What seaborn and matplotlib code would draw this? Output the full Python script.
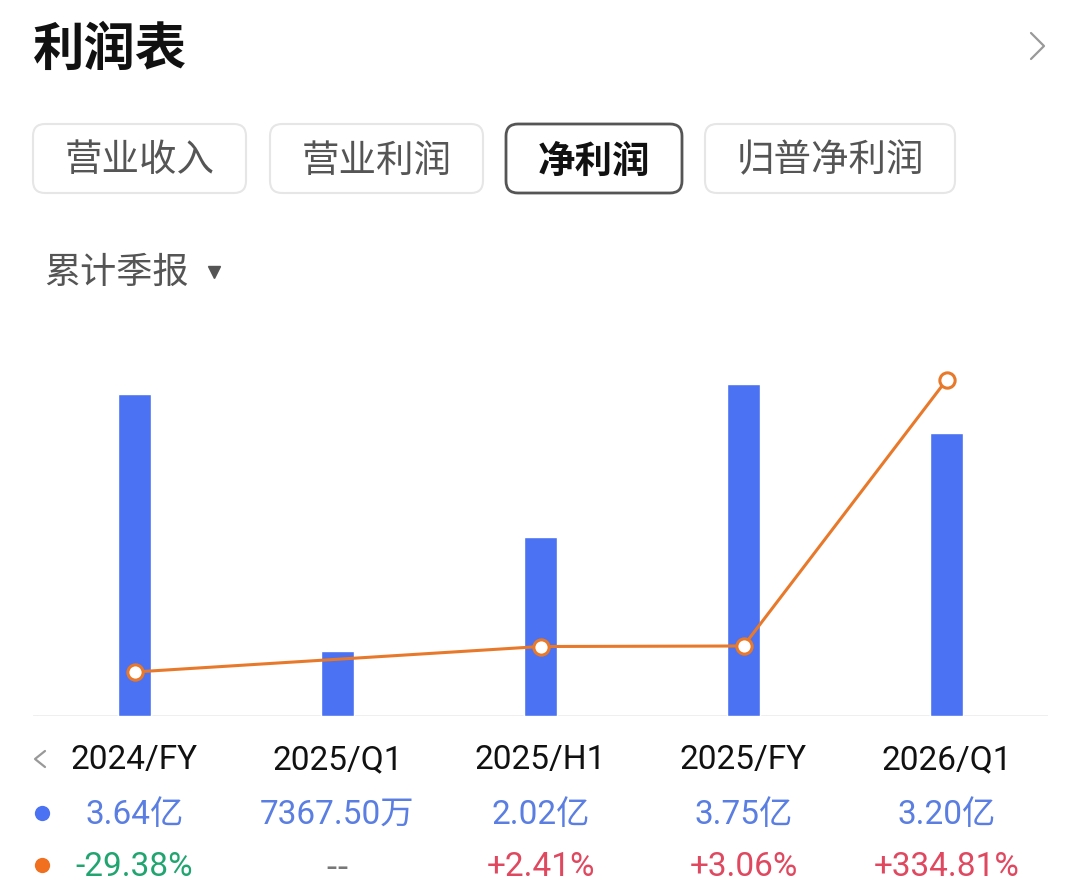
import numpy as np
import pandas as pd
import seaborn as sns
import matplotlib.pyplot as plt
from matplotlib.patches import FancyBboxPatch
from matplotlib.transforms import blended_transform_factory

sns.set_theme(style="white")
plt.rcParams['font.family'] = ['Noto Sans CJK SC', 'DejaVu Sans']

periods = ["2024/FY", "2025/Q1", "2025/H1", "2025/FY", "2026/Q1"]
profit = [3.64, 0.736750, 2.02, 3.75, 3.20]  # 亿
profit_labels = ["3.64亿", "7367.50万", "2.02亿", "3.75亿", "3.20亿"]
growth = [-29.38, np.nan, 2.41, 3.06, 334.81]  # %
growth_labels = ["-29.38%", "--", "+2.41%", "+3.06%", "+334.81%"]
tabs = ["营业收入", "营业利润", "净利润", "归普净利润"]

df = pd.DataFrame({"period": periods, "profit": profit, "growth": growth,
                   "pos": np.arange(len(periods))})

bar_color = "#4a72f2"
line_color = "#e8792a"
num_font = ['Roboto', 'Noto Sans CJK SC', 'DejaVu Sans']

fig = plt.figure(figsize=(10.8, 8.92), dpi=100)

# overlay in pixel coordinates for the header widgets
ov = fig.add_axes([0, 0, 1, 1])
ov.set_xlim(0, 1080)
ov.set_ylim(892, 0)
ov.axis("off")

ov.text(33, 49, "利润表", fontsize=37, fontweight="bold", color="#111111",
        va="center", ha="left")
ov.plot([1031, 1044, 1031], [33, 46, 59], color="#999999", lw=1.6)

tab_boxes = [(33, 246), (270, 483), (506, 682), (705, 955)]
for name, (x0, x1) in zip(tabs, tab_boxes):
    sel = name == "净利润"
    box = FancyBboxPatch((x0, 124), x1 - x0, 69,
                         boxstyle="round,pad=0,rounding_size=12",
                         fc="white", ec="#555555" if sel else "#e6e6e6",
                         lw=2.0 if sel else 1.5)
    ov.add_patch(box)
    ov.text((x0 + x1) / 2, 161, name, fontsize=27,
            fontweight="bold" if sel else "normal",
            color="#111111" if sel else "#555555", ha="center", va="center")

ov.text(44, 273, "累计季报", fontsize=26, color="#555555", ha="left", va="center")
ov.plot([214], [272], marker="v", ms=9, color="#555555")

# chart
ax = fig.add_axes([33 / 1080, (892 - 716) / 892, 1015 / 1080, 376 / 892])
sns.barplot(data=df, x="pos", y="profit", color=bar_color, width=0.158,
            saturation=1, ax=ax, native_scale=True)
ax.set_xlim(-0.5, 4.5)
ax.set_ylim(0, 4.25)
ax.axis("off")
ax.axhline(0, color="#eeeeee", lw=2, zorder=0)

ax2 = ax.twinx()
sns.lineplot(data=df, x="pos", y="growth", color=line_color, lw=2.2,
             marker="o", ms=11, mfc="white", mec=line_color, mew=2.2, ax=ax2)
ax2.set_xlim(-0.5, 4.5)
ax2.set_ylim(-84.26, 384.7)
ax2.axis("off")

tr = blended_transform_factory(ax.transData, ax.transAxes)
for i in range(len(periods)):
    ax.text(i, -0.117, periods[i], transform=tr, ha="center", va="center",
            fontsize=24, color="#111111", clip_on=False, family=num_font)
    ax.text(i, -0.263, profit_labels[i], transform=tr, ha="center", va="center",
            fontsize=24, color="#5a7ee2", clip_on=False, family=num_font)
    g = growth[i]
    fam = num_font
    if np.isnan(g):
        gc = "#777777"
        fam = ['DejaVu Sans']
    elif g < 0:
        gc = "#21a570"
    else:
        gc = "#e0485f"
    ax.text(i, -0.402, growth_labels[i], transform=tr, ha="center", va="center",
            fontsize=24, color=gc, clip_on=False, family=fam)

ov.plot([45, 35, 45], [751, 759, 767], color="#999999", lw=1.6)
ov.plot([42], [813], marker="o", ms=11, color="#4a72f2", mec="none")
ov.plot([42], [865], marker="o", ms=11, color="#f07020", mec="none")

fig.savefig("out.png", dpi=100)
